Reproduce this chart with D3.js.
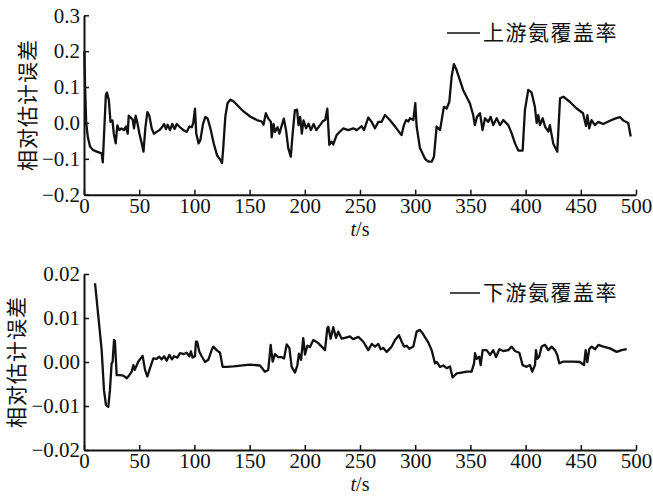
<!DOCTYPE html>
<html>
<head>
<meta charset="utf-8">
<script src="https://cdn.jsdelivr.net/npm/d3@7"></script>
<style>
	body { margin: 0; background: #fff; }
	svg { display: block; }
</style>
</head>
<body>
<div id="chart"></div>
<script>
// time (s) and relative estimation error, upstream ammonia coverage
const upT = [0.3, 1, 2, 3.5, 5.5, 8, 11.5, 16, 17, 19.8, 20.8, 22.5, 24, 25.8, 27, 28.7, 30.2, 32, 34, 36.2, 38, 39.6, 40.5, 42.3, 44, 45.3, 46.8, 48.4, 50.2, 52.3, 53.9, 55.6, 57.4, 59.2, 61.3, 63.4, 65.8, 68.3, 70.7, 72.5, 74.3, 75.8, 77.9, 80, 82.1, 84, 87, 90, 93, 95.5, 97.6, 99, 100.5, 101.7, 103.8, 105.4, 107.8, 109.9, 112, 114.5, 117.5, 120.5, 123.5, 125, 126, 128, 130, 132.5, 135.5, 140, 144.5, 150.5, 156.6, 161, 162.6, 164.7, 167, 169.3, 170, 171.7, 173, 175.3, 177, 179, 181, 183, 185, 187.3, 189, 191, 193, 194.3, 195.8, 197.3, 198.8, 201.2, 203.4, 205.5, 208, 210.4, 213.4, 216.4, 218.5, 220.4, 222.2, 224.3, 225.8, 228.8, 231.9, 234.9, 239.4, 243.9, 247, 251.5, 253.6, 257.5, 260.5, 263.6, 266.6, 269.6, 272.6, 277, 283, 287.6, 289.8, 291.7, 293.8, 295.3, 298.3, 300.1, 301.3, 304.3, 308.9, 312, 314.9, 317, 319.4, 322.5, 326, 328.5, 330.9, 333, 335, 337.4, 343.4, 349.5, 352.5, 354, 356, 358.7, 361, 363.2, 366.2, 368.3, 370.7, 373.8, 376.8, 379.8, 384.3, 387.4, 390.4, 393.4, 397.3, 399.4, 402.4, 405.4, 408.4, 410, 411.5, 413, 415.5, 417.6, 420.6, 422, 425, 428.7, 431.2, 434.2, 440, 446, 452, 454.7, 456, 457.6, 459.7, 462.7, 465.7, 470.3, 476.4, 480.9, 485.5, 488.5, 493, 495.2];
const upV = [0.2, 0.1, 0.0, -0.04, -0.066, -0.075, -0.08, -0.085, -0.11, 0.078, 0.085, 0.064, 0.003, 0.007, -0.03, -0.057, -0.007, -0.02, -0.015, -0.02, -0.01, -0.03, 0.02, 0.015, 0.01, -0.015, 0.02, 0, -0.03, -0.057, -0.08, -0.013, 0.03, 0.02, -0.015, -0.03, -0.025, -0.02, -0.012, -0.003, -0.017, -0.005, -0.02, -0.003, -0.017, -0.003, -0.012, -0.02, -0.025, -0.01, -0.012, 0, 0.04, -0.03, -0.057, -0.048, -0.003, 0.017, 0.012, -0.015, -0.057, -0.09, -0.103, -0.112, -0.075, 0.017, 0.055, 0.065, 0.06, 0.046, 0.032, 0.018, 0.008, 0.004, -0.005, 0.027, 0.012, 0.003, -0.04, -0.003, -0.025, -0.012, -0.03, -0.008, 0.012, -0.02, -0.07, -0.094, -0.03, 0.035, 0.037, -0.006, 0.017, -0.03, 0.007, -0.015, -0.002, -0.02, -0.003, -0.02, -0.008, 0.005, 0.008, 0.04, -0.061, -0.052, -0.06, -0.034, -0.024, -0.015, -0.02, -0.015, -0.02, -0.009, -0.02, 0.015, 0.003, -0.015, 0.003, 0.003, 0.022, 0.008, -0.015, -0.034, -0.006, 0.008, 0.004, 0.013, 0.008, 0.055, -0.01, -0.07, -0.1, -0.108, -0.108, -0.094, -0.01, -0.02, 0.045, 0.04, 0.059, 0.129, 0.164, 0.148, 0.092, 0.055, 0.022, -0.006, 0.017, 0.027, -0.02, 0.013, 0.003, 0.017, -0.006, 0.013, -0.006, 0.008, -0.006, -0.029, -0.057, -0.077, -0.077, 0.036, 0.092, 0.085, 0.045, 0.0, 0.022, -0.006, 0.013, -0.01, -0.024, -0.006, -0.057, -0.08, 0.069, 0.073, 0.059, 0.041, 0.027, -0.008, 0.022, -0.015, 0.008, -0.006, 0.003, -0.003, 0.006, 0.012, 0.016, 0.007, 0, -0.038];

// downstream ammonia coverage
const downT = [10, 13, 16, 18.1, 19.9, 22, 23.5, 25, 25.9, 27.2, 28, 29.6, 32.6, 35.6, 38.7, 41, 43.2, 44.7, 46, 49.2, 53.1, 55.3, 57.4, 59.8, 62.8, 65.8, 68.2, 70.4, 72.6, 74.9, 77.3, 79.7, 81.5, 84.5, 87, 90.6, 93, 95.4, 96.9, 98.4, 100.5, 101.4, 102.5, 104.4, 106.6, 109.6, 112.6, 115.6, 117.1, 120.2, 123.2, 125.6, 129.2, 135.3, 150.4, 159.4, 163.9, 166.9, 169.1, 170.9, 173, 176, 179, 181.2, 183.6, 186, 188.1, 191.1, 193.2, 194.7, 196.6, 198.6, 200.2, 202.3, 204.7, 207.7, 212.2, 215.3, 218.3, 220.4, 221.3, 223.4, 225.8, 228.3, 230.3, 233.4, 236.4, 240.9, 243.9, 248.5, 253, 257.5, 260.6, 263.6, 266.6, 268.7, 271.1, 274.2, 278.7, 281.7, 285.3, 287.8, 289.9, 292.3, 294.7, 298.3, 301.3, 304.3, 307.3, 311.9, 314.9, 317.9, 319.5, 322.5, 325.5, 328.5, 331.5, 333.9, 337.5, 342, 346.6, 351.1, 353.3, 354.2, 355.7, 358, 359.3, 361.1, 364.7, 367.8, 370.7, 373.2, 376.2, 379.8, 384.3, 387.4, 390.4, 394.3, 397.3, 400.9, 404, 406, 408.5, 409.4, 410.6, 412.4, 414.5, 417.6, 420.6, 423.6, 426.6, 428.7, 430.5, 434.2, 443.2, 449.3, 452.9, 454.4, 455.9, 457.7, 459.9, 462.9, 465.9, 470.4, 476.4, 482.5, 487, 491.6];
const downV = [0.0179, 0.0103, 0.0027, -0.0064, -0.0098, -0.0102, -0.0064, -0.0003, 0.0, 0.005, 0.0048, -0.003, -0.003, -0.0031, -0.0037, -0.003, -0.0022, -0.0007, -0.0018, 0.0001, 0.0014, -0.0018, -0.0033, -0.0014, 0.0008, 0.0007, 0.0012, 0.0006, 0.0013, 0.0003, 0.0016, 0.0006, 0.0013, 0.001, 0.002, 0.0018, 0.0021, 0.0013, 0.0024, 0.001, 0.0013, 0.0046, 0.0046, 0.0024, 0.0013, 0.0, 0.0005, 0.0027, 0.0035, 0.0027, 0.0021, -0.0011, -0.0011, -0.001, -0.0006, -0.0008, -0.0022, -0.0018, 0.0039, 0.0001, 0.0018, 0.0011, 0.0011, 0.0008, 0.004, 0.0032, -0.0011, -0.0024, -0.0008, 0.0019, 0.0005, 0.0054, 0.0017, 0.0037, 0.0034, 0.005, 0.0043, 0.0035, 0.0027, 0.0077, 0.008, 0.0053, 0.0079, 0.0055, 0.0069, 0.0053, 0.0055, 0.0058, 0.0052, 0.0057, 0.0046, 0.0027, 0.0041, 0.0035, 0.0041, 0.0029, 0.0032, 0.0023, 0.0035, 0.005, 0.0061, 0.0046, 0.0035, 0.0037, 0.003, 0.0035, 0.0069, 0.0073, 0.0063, 0.0044, 0.0027, -0.0003, 0.0, -0.0011, -0.0008, -0.0014, -0.001, -0.0035, -0.0026, -0.0024, -0.0022, -0.0022, -0.0003, 0.002, 0.0007, 0.0012, -0.0007, 0.0027, 0.0027, 0.0016, 0.0027, 0.0011, 0.0029, 0.0025, 0.0027, 0.0035, 0.0025, 0.0021, -0.0007, -0.0011, -0.0007, -0.0022, -0.0007, 0.0027, 0.0007, 0.0013, 0.0035, 0.0039, 0.0027, 0.0035, 0.0027, 0.0016, -0.0003, 0.0001, 0.0001, 0.0, -0.0007, 0.0027, 0.0, 0.003, 0.0035, 0.0029, 0.0039, 0.0035, 0.0031, 0.0023, 0.0027, 0.0029];

const xTicks = [0, 50, 100, 150, 200, 250, 300, 350, 400, 450, 500];
const upTicks = [-0.2, -0.1, 0.0, 0.1, 0.2, 0.3];
const downTicks = [-0.02, -0.01, 0.0, 0.01, 0.02];
const yTitle = '相对估计误差';
const upName = '上游氨覆盖率';
const downName = '下游氨覆盖率';

const width = 653;
const height = 497;
const serif = "'Liberation Serif', 'Times New Roman', 'DejaVu Serif', serif";
const cjk = "'Noto Sans CJK SC', 'Noto Sans CJK JP', sans-serif";

const svg = d3.select('#chart').append('svg')
	.attr('width', width)
	.attr('height', height);

function drawPanel(opts) {
	const x = d3.scaleLinear().domain([0, 500]).range([84, 636]);
	const y = d3.scaleLinear().domain(opts.domain).range([opts.bottom, opts.top]);
	const g = svg.append('g');

	// axes, ticks point inward
	const xAxis = d3.axisBottom(x)
		.tickValues(xTicks)
		.tickFormat(d3.format('d'))
		.tickSizeInner(-5)
		.tickSizeOuter(0)
		.tickPadding(3);
	const yAxis = d3.axisLeft(y)
		.tickValues(opts.ticks)
		.tickFormat(d3.format(opts.fmt))
		.tickSizeInner(-5)
		.tickSizeOuter(0)
		.tickPadding(4);

	g.append('g')
		.attr('transform', `translate(0,${opts.bottom})`)
		.call(xAxis);
	g.append('g')
		.attr('transform', 'translate(84,0)')
		.call(yAxis);

	g.selectAll('.domain').attr('stroke', '#111').attr('stroke-width', 2);
	g.selectAll('.tick line').attr('stroke', '#111').attr('stroke-width', 1.5);
	g.selectAll('.tick text')
		.attr('fill', '#111')
		.style('font-family', serif)
		.style('font-size', '21px');

	const pts = opts.t.map((t, i) => [t, opts.v[i]]);
	const line = d3.line()
		.x(d => x(d[0]))
		.y(d => y(d[1]));

	g.append('path')
		.datum(pts)
		.attr('d', line)
		.attr('fill', 'none')
		.attr('stroke', '#111')
		.attr('stroke-width', 2.3)
		.attr('stroke-linejoin', 'round');

	// x label t/s
	const xl = g.append('text')
		.attr('x', x(250))
		.attr('y', opts.bottom + 41)
		.attr('text-anchor', 'middle')
		.style('font-family', serif)
		.style('font-size', '20px')
		.style('fill', '#111');
	xl.append('tspan').style('font-style', 'italic').text('t');
	xl.append('tspan').text('/s');

	// y title
	g.append('text')
		.attr('transform', `translate(${opts.titleX},${(opts.top + opts.bottom) / 2}) rotate(-90)`)
		.attr('text-anchor', 'middle')
		.attr('dy', '0.35em')
		.style('font-family', cjk)
		.style('font-size', '21px')
		.style('letter-spacing', '1px')
		.style('fill', '#111')
		.text(yTitle);

	// legend
	g.append('line')
		.attr('x1', opts.legX)
		.attr('x2', 480)
		.attr('y1', opts.legY)
		.attr('y2', opts.legY)
		.attr('stroke', '#111')
		.attr('stroke-width', 1.5);
	g.append('text')
		.attr('x', 483)
		.attr('y', opts.legY)
		.attr('dy', '0.35em')
		.style('font-family', cjk)
		.style('font-size', '21px')
		.style('letter-spacing', '1.5px')
		.style('fill', '#111')
		.text(opts.name);
}

drawPanel({
	t: upT, v: upV, domain: [-0.2, 0.3], ticks: upTicks, fmt: '.1f',
	top: 15.3, bottom: 194.7, titleX: 28, legX: 447, legY: 33, name: upName
});

drawPanel({
	t: downT, v: downV, domain: [-0.02, 0.02], ticks: downTicks, fmt: '.2f',
	top: 274, bottom: 450, titleX: 17, legX: 450, legY: 293, name: downName
});
</script>
</body>
</html>
